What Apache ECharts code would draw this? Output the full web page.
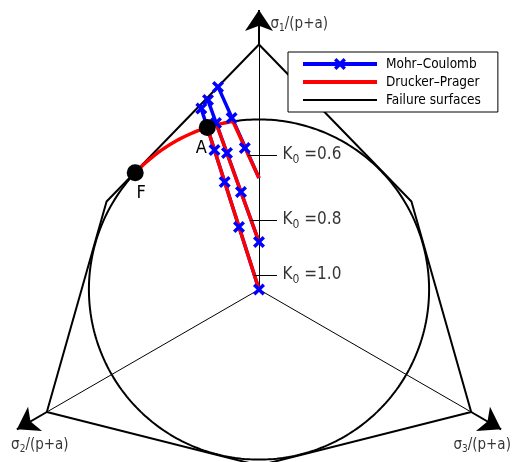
<!DOCTYPE html>
<html>
<head>
<meta charset="utf-8">
<script src="https://cdn.jsdelivr.net/npm/echarts@6/dist/echarts.min.js"></script>
<style>
html, body { margin: 0; padding: 0; background: #fff; }
#chart { width: 512px; height: 462px; }
</style>
</head>
<body>
<div id="chart"></div>
<script>
// Stress paths in the deviatoric plane, stresses normalised by (p + a)

// initial K0 states
const k0Labels = ['0.6', '0.8', '1.0'];
const pathStart = [[0, 0.4785], [0, 0.2039], [0, 0]];

// Mohr–Coulomb: end of each path on the hexagon
const mcEnd = [[-0.176, 0.8708], [-0.2232, 0.8236], [-0.2532, 0.7931]];
// Mohr–Coulomb output points (markers) along each path
const mcMarks06 = [[-0.0609, 0.6073], [-0.1176, 0.7361], [-0.176, 0.8691]];
const mcMarks08 = [[0, 0.2039], [-0.0773, 0.4185], [-0.1373, 0.5858], [-0.1845, 0.7146], [-0.2189, 0.8133]];
const mcMarks10 = [[0, 0], [-0.0858, 0.2682], [-0.1472, 0.4614], [-0.191, 0.5987], [-0.224, 0.7017], [-0.2476, 0.7768]];

// Drucker–Prager: polar angle (deg) where each path meets the cone, then slides to F
const dpYieldAngle = [98.8, 104.4, 107.7];
const angleA = 107.7;
const angleF = 136.7;

// failure surfaces
const rDP = 0.73;      // Drucker–Prager circle
const rComp = 1.0515;  // Mohr–Coulomb, triaxial compression corners
const rExt = 0.7554;   // Mohr–Coulomb, triaxial extension corners

// principal stress axes
const axisSub = ['1', '2', '3'];
const axisAngle = [90, 210, 330];
const axisTip = 1.2;

// points on the paths picked out by the K0 labels
const k0Pointer = [[-0.0472, 0.5773], [-0.0365, 0.2983], [-0.0215, 0.0622]];

// ---------------------------------------------------------------------
const FONT = "'DejaVu Sans Condensed', 'DejaVu Sans', sans-serif";
const rad = d => d * Math.PI / 180;
const polar = (r, deg) => [r * Math.cos(rad(deg)), r * Math.sin(rad(deg))];

// arc on the Drucker–Prager circle between two angles
function dpArc(a0, a1) {
  const pts = [];
  const n = Math.max(2, Math.ceil(Math.abs(a1 - a0)));
  for (let i = 0; i <= n; i++) pts.push(polar(rDP, a0 + (a1 - a0) * i / n));
  return pts;
}

const circlePts = dpArc(0, 360);
const hexAngles = [90, 30, -30, -90, -150, 150, 90];
const hexPts = hexAngles.map((a, i) => polar(i % 2 === 0 ? rComp : rExt, a));

const XMARK = 'path://M0,2 L2,0 L5,3 L8,0 L10,2 L7,5 L10,8 L8,10 L5,7 L2,10 L0,8 L3,5 Z';
const BLUE = '#0000ff', RED = '#ff0000';
const CLEAR = 'rgba(0,0,0,0)';

// legend keys drawn in a 74 x 12 box
const ICON_MC = 'path://M0,4 L74,4 L74,8 L0,8 Z M31,2.4 L33.4,0 L37,3.6 L40.6,0 L43,2.4 L39.4,6 L43,9.6 L40.6,12 L37,8.4 L33.4,12 L31,9.6 L34.6,6 Z';
const ICON_DP = 'path://M0,0 M74,12 M0,4 L74,4 L74,8 L0,8 Z';
const ICON_FS = 'path://M0,0 M74,12 M0,5 L74,5 L74,7 L0,7 Z';

const series = [];

// Failure surfaces
series.push({
  name: 'Failure surfaces', type: 'line', data: hexPts, symbol: 'none',
  itemStyle: { color: '#000' }, lineStyle: { color: '#000', width: 2 }, z: 1, silent: true
});
series.push({
  name: 'Failure surfaces', type: 'line', data: circlePts, symbol: 'none',
  itemStyle: { color: '#000' }, lineStyle: { color: '#000', width: 2 }, z: 1, silent: true
});

// principal axes: thin rays to the compression corners, shafts and arrow heads beyond
series.push({
  type: 'lines', coordinateSystem: 'cartesian2d', z: 1, silent: true,
  lineStyle: { color: '#000', width: 1, opacity: 1 },
  data: axisAngle.map(a => ({ coords: [[0, 0], polar(rComp, a)] }))
});
series.push({
  type: 'lines', coordinateSystem: 'cartesian2d', z: 1, silent: true,
  symbol: ['none', 'arrow'], symbolSize: 21,
  lineStyle: { color: '#000', width: 2, opacity: 1 },
  data: axisAngle.map(a => ({ coords: [polar(rComp, a), polar(axisTip, a)] }))
});

// axis titles
const axisLabelPos = [
  { pos: 'right', offset: [6, 14] },
  { pos: 'bottom', offset: [23, 0] },
  { pos: 'bottom', offset: [-19, 0] }
];
series.push({
  type: 'scatter', symbolSize: 1, itemStyle: { color: CLEAR }, z: 6, silent: true,
  data: axisAngle.map((a, i) => ({
    value: polar(axisTip, a),
    label: {
      show: true, position: axisLabelPos[i].pos, offset: axisLabelPos[i].offset,
      formatter: '{s|σ}{b|' + axisSub[i] + '}{s|/(p+a)}'
    }
  })),
  label: {
    rich: {
      s: { fontFamily: FONT, fontSize: 15, color: '#000', lineHeight: 20, verticalAlign: 'middle' },
      b: { fontFamily: FONT, fontSize: 10, color: '#000', lineHeight: 20, verticalAlign: 'bottom' }
    }
  }
});

// Mohr–Coulomb paths (lines below the Drucker–Prager paths, markers above)
const mcMarks = [mcMarks06, mcMarks08, mcMarks10];
pathStart.forEach((s, i) => {
  series.push({
    name: 'Mohr–Coulomb', type: 'line', data: [s, mcEnd[i]],
    symbol: 'none',
    itemStyle: { color: BLUE }, lineStyle: { color: BLUE, width: 3.5 }, z: 2
  });
});
mcMarks.forEach(m => {
  series.push({
    name: 'Mohr–Coulomb', type: 'scatter', data: m, symbol: XMARK, symbolSize: 12,
    itemStyle: { color: BLUE, opacity: 1 }, z: 4
  });
});

// Drucker–Prager paths
pathStart.forEach((s, i) => {
  const endAngle = i === 2 ? angleF : angleA;
  series.push({
    name: 'Drucker–Prager', type: 'line', data: [s].concat(dpArc(dpYieldAngle[i], endAngle)),
    symbol: 'none', itemStyle: { color: RED }, lineStyle: { color: RED, width: 3.5, join: 'round' }, z: 3
  });
});

// K0 annotations
series.push({
  type: 'lines', coordinateSystem: 'cartesian2d', z: 5, silent: true,
  lineStyle: { color: '#000', width: 1, opacity: 1 },
  data: k0Pointer.map(p => ({ coords: [p, [0.0773, p[1]]] }))
});
series.push({
  type: 'scatter', symbolSize: 1, itemStyle: { color: CLEAR }, z: 6, silent: true,
  data: k0Pointer.map((p, i) => ({
    value: [0.0773, p[1]],
    label: {
      show: true, position: 'right', distance: 5,
      formatter: '{k|K}{b|0}{k| =' + k0Labels[i] + '}'
    }
  })),
  label: {
    rich: {
      k: { fontFamily: FONT, fontSize: 17, color: '#000', lineHeight: 22, verticalAlign: 'middle' },
      b: { fontFamily: FONT, fontSize: 12, color: '#000', lineHeight: 22, verticalAlign: 'bottom' }
    }
  }
});

// states A and F on the Drucker–Prager cone
series.push({
  type: 'scatter', symbol: 'circle', symbolSize: 17, z: 7, silent: true,
  itemStyle: { color: '#000', opacity: 1 },
  data: [
    { value: polar(rDP, angleA), label: { show: true, formatter: 'A', offset: [-6, 21] } },
    { value: polar(rDP, angleF), label: { show: true, formatter: 'F', offset: [6, 20] } }
  ],
  label: { position: 'inside', fontFamily: FONT, fontSize: 18, color: '#000' }
});

const chart = echarts.init(document.getElementById('chart'), null, { renderer: 'canvas' });
chart.setOption({
  animation: false,
  backgroundColor: '#fff',
  grid: { left: 0, right: 0, top: 0, bottom: 0 },
  xAxis: { type: 'value', min: -1.11159, max: 1.08584, show: false },
  yAxis: { type: 'value', min: -0.74034, max: 1.24249, show: false },
  legend: {
    orient: 'vertical', left: 288, top: 52,
    padding: [5, 17, 5, 15],
    backgroundColor: '#fff', borderColor: '#000', borderWidth: 1, borderRadius: 0,
    itemWidth: 74, itemHeight: 12, itemGap: 4,
    textStyle: { fontFamily: FONT, fontSize: 13.5, color: '#000', lineHeight: 14, padding: [0, 0, 0, 4] },
    data: [
      { name: 'Mohr–Coulomb', icon: ICON_MC },
      { name: 'Drucker–Prager', icon: ICON_DP },
      { name: 'Failure surfaces', icon: ICON_FS }
    ]
  },
  series: series
});
</script>
</body>
</html>
